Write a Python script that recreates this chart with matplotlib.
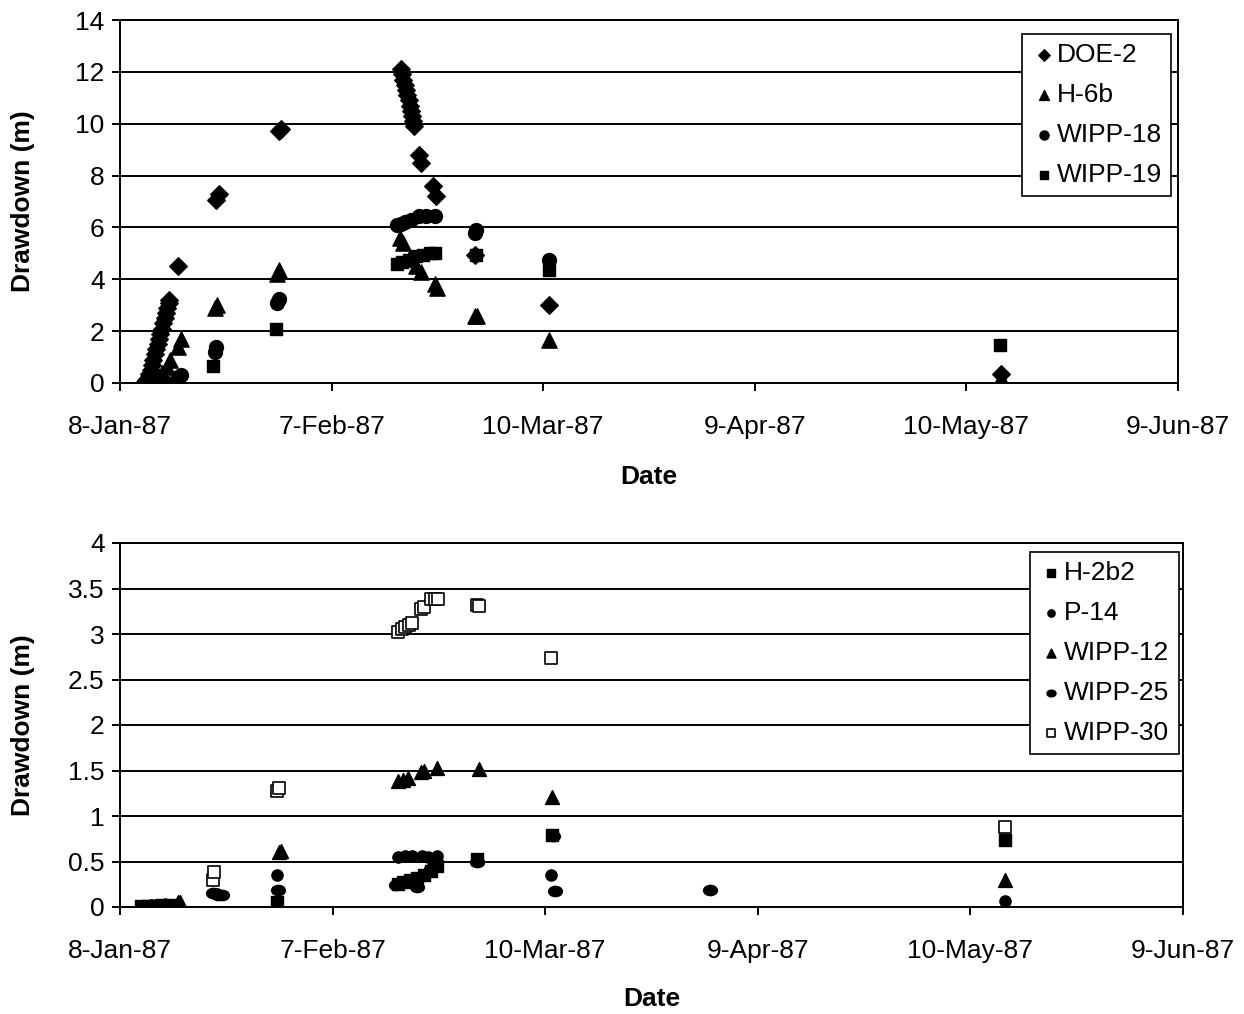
import numpy as np
import matplotlib
matplotlib.use("Agg")
import matplotlib.pyplot as plt
from matplotlib.path import Path
from matplotlib.transforms import Affine2D

plt.rcParams['font.family'] = ['Liberation Sans', 'DejaVu Sans']

# x values: days since 8-Jan-87
date_ticks = [0, 30.4, 60.8, 91.2, 121.6, 152]
date_labels = ["8-Jan-87", "7-Feb-87", "10-Mar-87", "9-Apr-87", "10-May-87", "9-Jun-87"]

# ---------------- top chart ----------------
doe2_x = [3.4, 3.6, 3.8, 4.0, 4.2, 4.4, 4.6, 4.8, 5.0, 5.2, 5.4, 5.6, 5.8, 6.0, 6.2, 6.4, 6.6, 6.8, 7.0, 7.1,
          8.4, 13.8, 14.2, 22.8, 23.1,
          40.3, 40.5, 40.7, 40.9, 41.1, 41.3, 41.5, 41.6, 41.8, 41.9, 42.1, 42.2,
          43.0, 43.3, 45.0, 45.4, 51.0, 61.7, 126.5]
doe2_y = [0.0, 0.05, 0.1, 0.2, 0.35, 0.5, 0.7, 0.9, 1.1, 1.3, 1.5, 1.7, 1.9, 2.1, 2.3, 2.5, 2.7, 2.9, 3.1, 3.2,
          4.5, 7.05, 7.3, 9.7, 9.8,
          12.1, 11.9, 11.7, 11.5, 11.3, 11.1, 10.9, 10.7, 10.5, 10.3, 10.1, 9.9,
          8.8, 8.5, 7.6, 7.2, 4.95, 3.0, 0.35]

h6b_x = [4.0, 5.0, 6.0, 6.8, 7.2, 8.4, 8.8, 13.6, 13.9, 22.6, 22.9,
         40.2, 40.6, 41.5, 42.5, 43.2, 45.2, 45.5, 51.0, 51.3, 61.7, 126.5]
h6b_y = [0.05, 0.2, 0.4, 0.6, 0.9, 1.4, 1.7, 2.9, 3.0, 4.2, 4.35,
         5.6, 5.4, 4.8, 4.5, 4.3, 3.8, 3.65, 2.6, 2.6, 1.65, 0.2]

w18_x = [4.5, 5.5, 6.5, 8.3, 8.7, 13.6, 13.8, 22.5, 22.8,
         39.8, 40.3, 41.0, 41.8, 43.0, 44.0, 45.3, 51.0, 51.2, 61.7]
w18_y = [0.0, 0.02, 0.05, 0.25, 0.3, 1.2, 1.4, 3.1, 3.25,
         6.1, 6.15, 6.2, 6.3, 6.45, 6.45, 6.45, 5.8, 5.9, 4.75]

w19_x = [5.0, 6.0, 13.4, 22.4, 39.8, 40.5, 41.5, 42.5, 43.5, 44.5, 45.3, 51.1, 61.7, 126.4]
w19_y = [0.0, 0.02, 0.65, 2.1, 4.6, 4.65, 4.75, 4.9, 4.95, 5.0, 5.0, 4.95, 4.35, 1.45]

# ---------------- bottom chart ----------------
h2b2_x = [3.0, 4.0, 5.0, 6.0, 7.0, 22.5, 39.8, 40.5, 41.5, 42.5, 43.5, 44.5, 45.3, 51.0, 61.8, 126.5]
h2b2_y = [0.01, 0.01, 0.01, 0.02, 0.02, 0.05, 0.25, 0.28, 0.3, 0.32, 0.35, 0.4, 0.45, 0.53, 0.79, 0.74]

p14_x = [3.5, 4.5, 5.5, 13.9, 22.5, 39.8, 40.8, 41.8, 43.2, 44.0, 45.3, 61.7, 126.5]
p14_y = [0.01, 0.02, 0.02, 0.14, 0.35, 0.55, 0.56, 0.56, 0.56, 0.55, 0.56, 0.35, 0.07]

w12_x = [5.0, 6.5, 8.3, 8.6, 22.7, 23.0, 39.8, 40.5, 41.2, 43.0, 43.5, 45.3, 51.3, 61.8, 126.5]
w12_y = [0.01, 0.02, 0.06, 0.05, 0.6, 0.62, 1.38, 1.4, 1.42, 1.48, 1.5, 1.53, 1.52, 1.21, 0.3]

w25_x = [4.0, 5.5, 7.0, 13.3, 14.0, 14.6, 22.6, 39.5, 40.5, 41.5, 42.5, 43.5, 44.5, 45.0, 51.0, 61.9, 62.2, 84.3]
w25_y = [0.01, 0.02, 0.02, 0.15, 0.13, 0.13, 0.19, 0.24, 0.27, 0.3, 0.22, 0.35, 0.42, 0.46, 0.5, 0.78, 0.18, 0.19]

w30_x = [13.3, 13.4, 22.5, 22.8, 39.8, 40.3, 40.8, 41.3, 41.8, 43.0, 43.5, 44.5, 45.0, 45.5, 51.0, 51.4, 61.7, 126.5]
w30_y = [0.3, 0.38, 1.28, 1.31, 3.02, 3.05, 3.08, 3.1, 3.12, 3.27, 3.3, 3.38, 3.38, 3.38, 3.32, 3.31, 2.74, 0.88]

ellipse = Path.unit_circle().transformed(Affine2D().scale(1.35, 1.0))

FS = 19

fig = plt.figure(figsize=(12.44, 10.14), dpi=100)
ax1 = fig.add_axes([120/1244, 1-383/1014, (1178-120)/1244, (383-20)/1014])
ax2 = fig.add_axes([120/1244, 1-907/1014, (1183-120)/1244, (907-543)/1014])

def style(ax, ymax, ystep, fmt, xlab_y):
    ax.set_xlim(0, 152)
    ax.set_ylim(0, ymax)
    ax.set_xticks(date_ticks)
    ax.set_xticklabels(date_labels, fontsize=FS)
    yt = np.arange(0, ymax + ystep/2, ystep)
    ax.set_yticks(yt)
    ax.set_yticklabels([fmt(v) for v in yt], fontsize=FS)
    ax.grid(axis='y', color='black', linewidth=1.4)
    ax.set_axisbelow(True)
    for s in ax.spines.values():
        s.set_linewidth(1.4)
    ax.tick_params(axis='y', direction='out', length=6, width=1.4, pad=5)
    ax.tick_params(axis='x', direction='out', length=6, width=1.4, pad=17)
    ax.set_xlabel("Date", fontsize=FS, fontweight='bold')
    ax.xaxis.set_label_coords(0.5, xlab_y)
    ax.set_ylabel("Drawdown (m)", fontsize=FS, fontweight='bold')
    ax.yaxis.set_label_coords(-0.08, 0.5)

style(ax1, 14, 2, lambda v: f"{int(v)}", -0.225)
style(ax2, 4, 0.5, lambda v: f"{v:g}", -0.22)

ax1.scatter(doe2_x, doe2_y, marker='D', s=80, color='black', label='DOE-2', zorder=3)
ax1.scatter(h6b_x, h6b_y, marker='^', s=120, color='black', label='H-6b', zorder=3)
ax1.scatter(w18_x, w18_y, marker='o', s=100, color='black', label='WIPP-18', zorder=3)
ax1.scatter(w19_x, w19_y, marker='s', s=65, color='black', label='WIPP-19', zorder=3)

ax2.scatter(h2b2_x, h2b2_y, marker='s', s=65, color='black', label='H-2b2', zorder=3)
ax2.scatter(p14_x, p14_y, marker='o', s=65, color='black', label='P-14', zorder=3)
ax2.scatter(w12_x, w12_y, marker='^', s=100, color='black', label='WIPP-12', zorder=3)
ax2.scatter(w25_x, w25_y, marker=ellipse, s=100, color='black', label='WIPP-25', zorder=3)
ax2.scatter(w30_x, w30_y, marker='s', s=65, facecolor='white', edgecolor='black', linewidth=1.2,
            label='WIPP-30', zorder=3)

for ax, anchor in ((ax1, (0.853, 0.962)), (ax2, (0.856, 0.975))):
    leg = ax.legend(loc='upper left', bbox_to_anchor=anchor, fontsize=FS, frameon=True,
                    fancybox=False, borderpad=0.35, handletextpad=0.05, labelspacing=0.6,
                    markerscale=0.65, handlelength=0.9, borderaxespad=0)
    leg.get_frame().set_edgecolor('black')
    leg.get_frame().set_linewidth(1.2)
    leg.get_frame().set_alpha(1)

fig.savefig("out.png", dpi=100)
